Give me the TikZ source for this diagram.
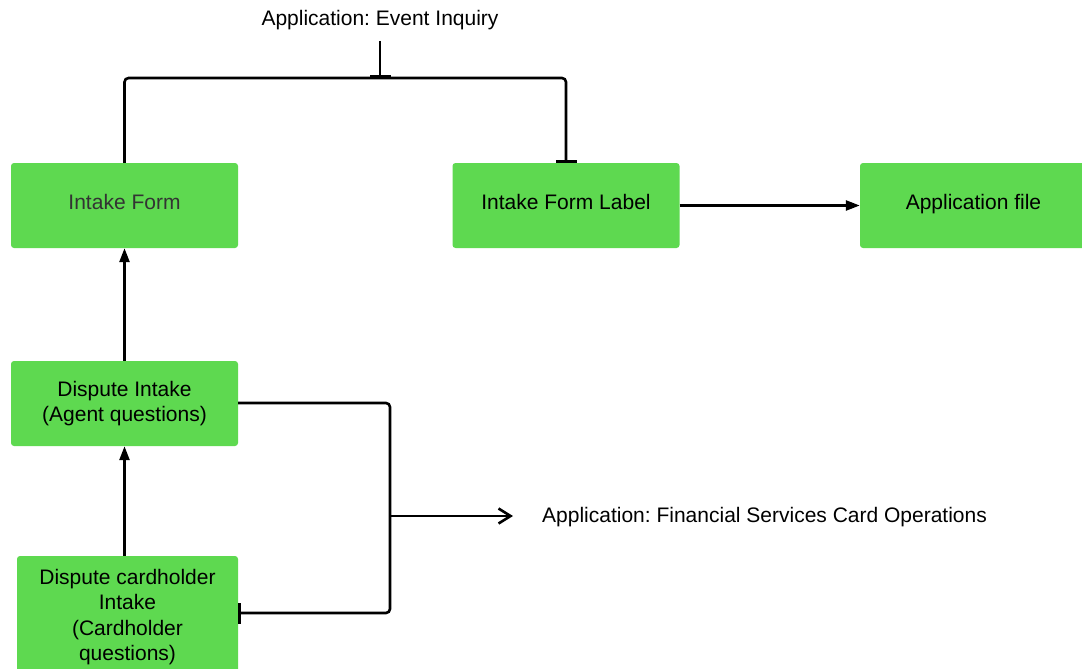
\documentclass[tikz,border=0pt]{standalone}
\usepackage{fontspec}
\setmainfont{Liberation Sans}
\usetikzlibrary{arrows.meta}
\definecolor{boxgreen}{RGB}{94,217,80}
\definecolor{softtext}{RGB}{51,51,51}
\frenchspacing
\begin{document}
\begin{tikzpicture}[x=1pt,y=-1pt,
  box/.style={fill=boxgreen, rounded corners=3pt, minimum width=227pt, minimum height=85pt,
    inner sep=0pt, align=center, font=\fontsize{21}{25.5}\selectfont},
  single/.style={text depth=8pt},
  conn/.style={line width=2.6pt, rounded corners=4pt},
  lbl/.style={font=\fontsize{21}{25.5}\selectfont, inner sep=0pt},
  filltip/.style={-{Triangle[length=14pt,width=10pt]}},
  bartip/.style={-{Bar[width=21pt]}},
  opentip/.style={-{Straight Barb[length=12pt,width=15pt]}}]
\useasboundingbox (0,0) rectangle (1082,669);
\clip (0,0) rectangle (1082,669);
\node[box, single, text=softtext] (intake) at (124.5,205.5) {Intake Form};
\node[box, single] (label) at (566,205.5) {Intake Form Label};
\node[box, single] (file) at (973.5,205.5) {Application file};
\node[box] (dispute) at (124.5,403.5) {Dispute Intake\\(Agent questions)};
\node[box, minimum width=221pt, minimum height=122pt] (card) at (127.5,617) {Dispute cardholder\\Intake\\(Cardholder\\questions)};
\node[lbl] (evt) at (380,20) {Application: Event Inquiry};
\node[lbl, anchor=west] (fin) at (542,517.5) {Application: Financial Services Card Operations};
\coordinate (top) at (380,78);
\coordinate (evtfoot) at (380,41);
\coordinate (mid) at (390,516);
\coordinate (tip) at (513,516);
\coordinate (cardhook) at (238,613);
% top bracket
\draw[conn, bartip] (intake.north) |- (top) -| (label.north);
\draw[conn, bartip] (evtfoot) -- (top);
% flow arrows
\draw[conn, filltip] (label.east) -- (file.west);
\draw[conn, filltip] (dispute.north) -- (intake.south);
\draw[conn, filltip] (card.north -| dispute.south) -- (dispute.south);
% bottom bracket
\draw[conn, bartip] (dispute.east |- 0,403) -| (mid) |- (cardhook);
\draw[conn, opentip] (mid) -- (tip);
\end{tikzpicture}
\end{document}
